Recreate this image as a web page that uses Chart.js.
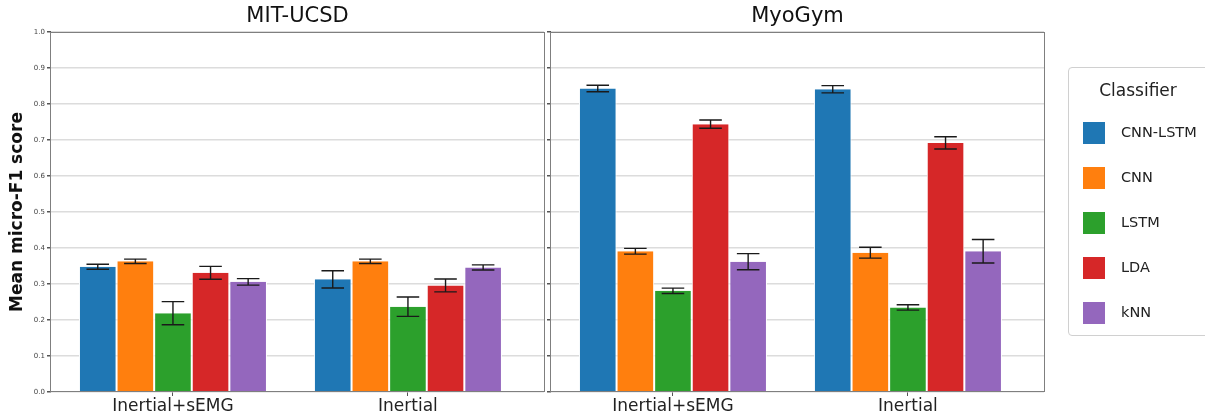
<!DOCTYPE html>
<html>
<head>
<meta charset="utf-8">
<script src="https://cdn.jsdelivr.net/npm/chart.js@4"></script>
<style>
  body { margin: 0; background: #fff; font-family: 'DejaVu Sans', sans-serif; }
  #wrap { position: relative; width: 1205px; height: 417px; overflow: hidden; }
  #c-mit { position: absolute; left: 0; top: 0; }
  #c-myo { position: absolute; left: 540px; top: 0; }
  #legend { position: absolute; left: 1068px; top: 67px; width: 160px; height: 269px;
            border: 1px solid #d0d0d0; border-radius: 4px; box-sizing: border-box; }
  #legend .title { position: absolute; left: 0; top: 12px; width: 138px; text-align: center;
                   font-size: 17px; color: #222; }
  #legend .item { position: absolute; left: 14px; height: 22px; }
  #legend .swatch { position: absolute; left: 0; top: 0; width: 22px; height: 22px; }
  #legend .label { position: absolute; left: 38px; top: 2px; font-size: 14.5px; color: #222; white-space: nowrap; }
</style>
</head>
<body>
<div id="wrap">
  <canvas id="c-mit" width="548" height="417"></canvas>
  <canvas id="c-myo" width="665" height="417"></canvas>
  <div id="legend"><div class="title">Classifier</div></div>
</div>
<script>
// Categories
const groups = ['Inertial+sEMG', 'Inertial'];
const classifiers = ['CNN-LSTM', 'CNN', 'LSTM', 'LDA', 'kNN'];
const colors = ['#1f77b4', '#ff7f0e', '#2ca02c', '#d62728', '#9467bd'];

// MIT-UCSD: mean and error, one row per classifier, [Inertial+sEMG, Inertial]
const mitMean = [
    [0.348, 0.313],
    [0.363, 0.363],
    [0.219, 0.237],
    [0.331, 0.296],
    [0.306, 0.346]
];
const mitErr = [
    [0.007, 0.024],
    [0.006, 0.006],
    [0.032, 0.027],
    [0.018, 0.018],
    [0.009, 0.007]
];

// MyoGym
const myoMean = [
    [0.843, 0.841],
    [0.391, 0.387],
    [0.281, 0.235],
    [0.744, 0.692],
    [0.362, 0.391]
];
const myoErr = [
    [0.009, 0.010],
    [0.008, 0.015],
    [0.0075, 0.0075],
    [0.0115, 0.017],
    [0.0225, 0.0325]
];

// Y ticks
const yTicks = [0, 0.1, 0.2, 0.3, 0.4, 0.5, 0.6, 0.7, 0.8, 0.9, 1.0];

const FONT = "'DejaVu Sans', sans-serif";
const FRAME = '#7f7f7f';

// Error bars drawn from the dataset's error array
const errorBars = {
    id: 'errorBars',
    afterDatasetsDraw(chart) {
        const ctx = chart.ctx;
        const y = chart.scales.y;
        ctx.save();
        ctx.strokeStyle = '#1a1a1a';
        ctx.lineWidth = 1.4;
        chart.data.datasets.forEach((ds, i) => {
            const meta = chart.getDatasetMeta(i);
            meta.data.forEach((bar, j) => {
                const v = ds.data[j].y;
                const e = ds.errors[j];
                const top = y.getPixelForValue(v + e);
                const bot = y.getPixelForValue(v - e);
                const half = bar.width * 0.3;
                ctx.beginPath();
                ctx.moveTo(bar.x, top); ctx.lineTo(bar.x, bot);
                ctx.moveTo(bar.x - half, top); ctx.lineTo(bar.x + half, top);
                ctx.moveTo(bar.x - half, bot); ctx.lineTo(bar.x + half, bot);
                ctx.stroke();
            });
        });
        ctx.restore();
    }
};

// Plot frame
const frame = {
    id: 'frame',
    afterDraw(chart) {
        const a = chart.chartArea;
        const ctx = chart.ctx;
        ctx.save();
        ctx.strokeStyle = FRAME;
        ctx.lineWidth = 1;
        ctx.strokeRect(Math.round(a.left) - 0.5, Math.round(a.top) + 0.5,
                       Math.round(a.right - a.left) + 1, Math.round(a.bottom - a.top) - 1);
        ctx.restore();
    }
};

function makeChart(canvasId, title, means, errs, showYLabels) {
    const datasets = classifiers.map((name, i) => ({
        label: name,
        data: groups.map((g, j) => ({ x: j, y: means[i][j] })),
        errors: errs[i],
        backgroundColor: colors[i],
        borderColor: '#ffffff',
        borderWidth: { left: 1, right: 1, top: 0, bottom: 0 },
        categoryPercentage: 0.8,
        barPercentage: 1.0
    }));

    return new Chart(document.getElementById(canvasId), {
        type: 'bar',
        data: { datasets },
        plugins: [errorBars, frame],
        options: {
            responsive: false,
            animation: false,
            layout: { padding: { left: 0, right: showYLabels ? 4 : 161, top: 0, bottom: 0 } },
            plugins: {
                legend: { display: false },
                tooltip: { enabled: false },
                title: {
                    display: true,
                    text: title,
                    fullSize: false,
                    color: '#111',
                    font: { family: FONT, size: 21, weight: 'normal', lineHeight: '25px' },
                    padding: { top: 4, bottom: 3 }
                }
            },
            scales: {
                x: {
                    type: 'linear',
                    min: -0.519,
                    max: 1.579,
                    offset: false,
                    afterBuildTicks: s => { s.ticks = s.ticks.filter(t => Number.isInteger(t.value)); },
                    afterFit: s => { s.height = 25; },
                    ticks: {
                        stepSize: 1,
                        autoSkip: false,
                        maxRotation: 0,
                        padding: 0,
                        color: '#222',
                        font: { family: FONT, size: 17 },
                        callback: v => groups[v] ?? ''
                    },
                    grid: { offset: false, drawOnChartArea: false, drawTicks: true, tickLength: 4, tickColor: '#555' },
                    border: { display: false }
                },
                y: {
                    min: 0,
                    max: 1,
                    afterBuildTicks: s => { s.ticks = yTicks.map(v => ({ value: v })); },
                    afterFit: s => { s.width = showYLabels ? 51 : 11; },
                    ticks: {
                        padding: 2,
                        color: '#444',
                        font: { family: FONT, size: 7 },
                        callback: v => showYLabels ? v.toFixed(1) : ''
                    },
                    grid: { color: '#dcdcdc', lineWidth: 1.5, tickLength: 4, tickColor: '#555' },
                    border: { display: false },
                    title: {
                        display: showYLabels,
                        text: 'Mean micro-F1 score',
                        color: '#111',
                        font: { family: FONT, size: 17, weight: 'bold' },
                        padding: { top: 7, bottom: 0 }
                    }
                }
            }
        }
    });
}

makeChart('c-mit', 'MIT-UCSD', mitMean, mitErr, true);
makeChart('c-myo', 'MyoGym', myoMean, myoErr, false);

// Legend built from the same arrays
const legend = document.getElementById('legend');
classifiers.forEach((name, i) => {
    const item = document.createElement('div');
    item.className = 'item';
    item.style.top = (54 + 45 * i) + 'px';
    item.innerHTML = `<div class="swatch" style="background:${colors[i]}"></div><div class="label">${name}</div>`;
    legend.appendChild(item);
});
</script>
</body>
</html>
